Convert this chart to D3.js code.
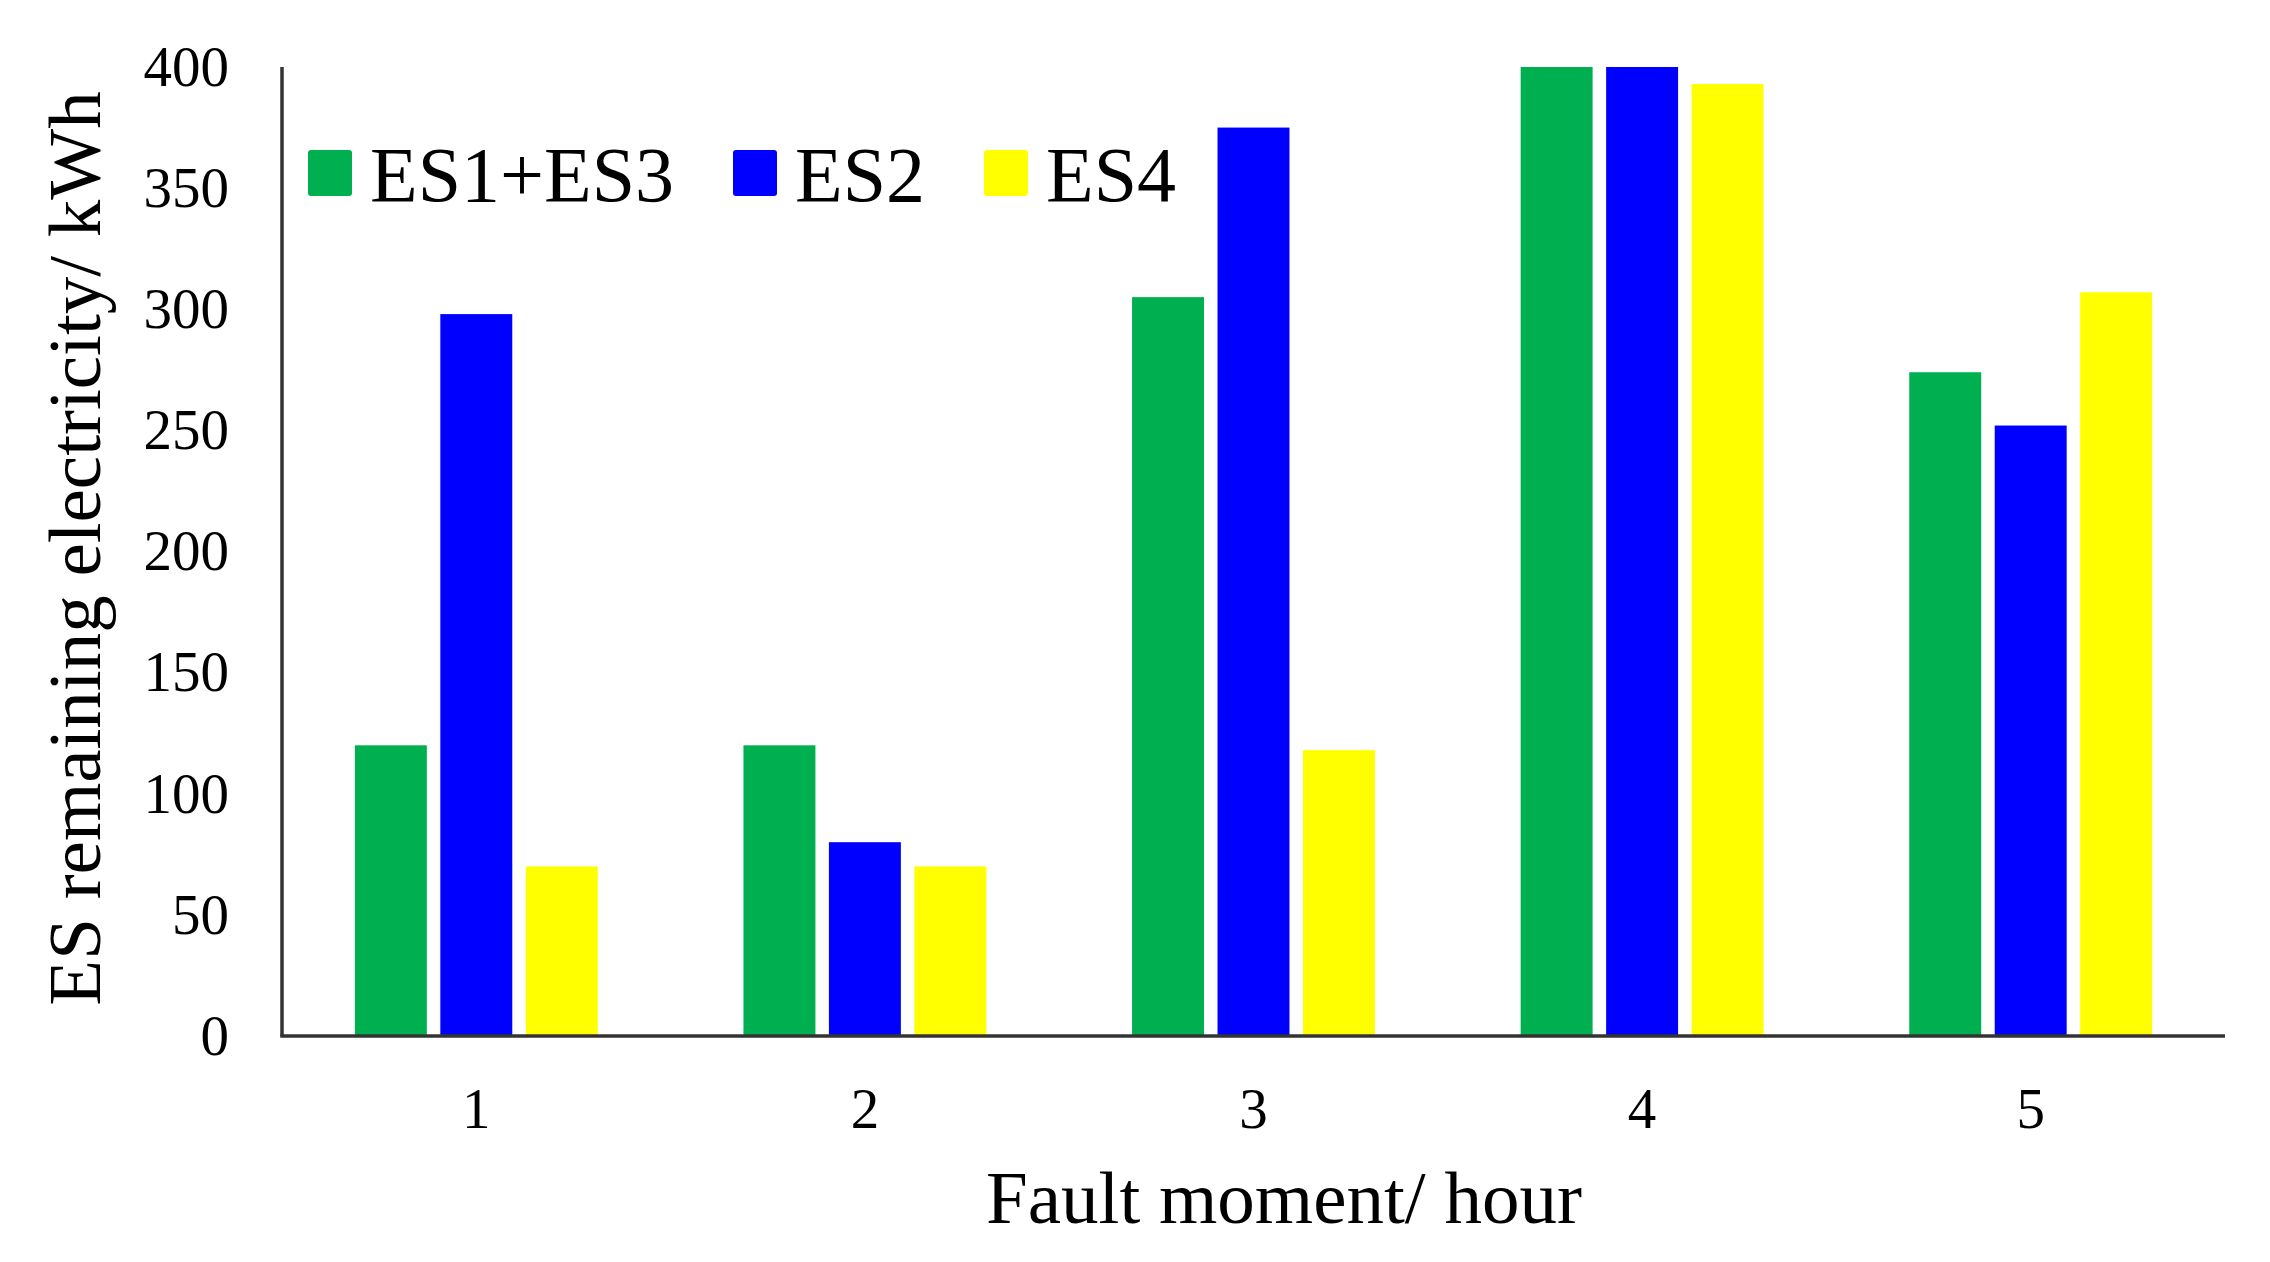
<!DOCTYPE html>
<html><head><meta charset="utf-8">
<script src="https://cdn.jsdelivr.net/npm/d3@7"></script>
<style>html,body{margin:0;padding:0;background:#fff;}svg{display:block;}</style>
</head><body>
<script>
const categories = ["1","2","3","4","5"];
const seriesNames = ["ES1+ES3","ES2","ES4"];
const es13 = [120,120,305,400,274];
const es2 = [298,80,375,400,252];
const es4 = [70,70,118,393,307];
const yTicks = [0,50,100,150,200,250,300,350,400];
const colors = ["#00B050","#0000FF","#FFFF00"];
const seriesValues = [es13, es2, es4];

const W = 2270, H = 1262;
const mLeft = 282, mRight = 2225, mTop = 67, mBottom = 1036;
const font = "'Liberation Serif','Times New Roman',serif";

const svg = d3.select("body").append("svg").attr("width", W).attr("height", H);

const x0 = d3.scaleBand().domain(categories).range([mLeft, mRight]).paddingInner(0.375).paddingOuter(0.1875);
const x1 = d3.scaleBand().domain(seriesNames).range([0, x0.bandwidth()]).paddingInner(0.158).paddingOuter(0);
const y = d3.scaleLinear().domain([0, 400]).range([mBottom, mTop]);

// bars
categories.forEach((c, i) => {
  const g = svg.append("g").attr("transform", `translate(${x0(c)},0)`);
  g.selectAll("rect").data(seriesNames.map((s, k) => ({s, v: seriesValues[k][i], k})))
    .enter().append("rect")
    .attr("x", d => x1(d.s)).attr("width", x1.bandwidth())
    .attr("y", d => y(d.v)).attr("height", d => y(0) - y(d.v))
    .attr("fill", d => colors[d.k]);
});

// y axis
const yAxis = d3.axisLeft(y).tickValues(yTicks).tickSize(0).tickPadding(53);
const ya = svg.append("g").attr("transform", `translate(${mLeft},0)`).call(yAxis);
ya.select(".domain").remove();
ya.selectAll("text").attr("font-family", font).attr("font-size", 57).attr("fill", "#000");

// x axis
const xAxis = d3.axisBottom(x0.copy().paddingInner(0).paddingOuter(0)).tickSize(0).tickPadding(52);
const xa = svg.append("g").attr("transform", `translate(0,${mBottom})`).call(xAxis);
xa.select(".domain").remove();
xa.selectAll("text").attr("font-family", font).attr("font-size", 57).attr("fill", "#000");

// axis lines
svg.append("line").attr("x1", mLeft).attr("x2", mLeft).attr("y1", mTop).attr("y2", mBottom)
  .attr("stroke", "#333").attr("stroke-width", 3.5);
svg.append("line").attr("x1", mLeft - 1.75).attr("x2", mRight).attr("y1", mBottom).attr("y2", mBottom)
  .attr("stroke", "#333").attr("stroke-width", 3.5);

// axis titles
svg.append("text").attr("x", 1284).attr("y", 1223)
  .attr("text-anchor", "middle").attr("font-family", font).attr("font-size", 75).attr("fill", "#000")
  .text("Fault moment/ hour");
svg.append("text").attr("transform", `translate(100,${(mTop + mBottom) / 2 - 3}) rotate(-90)`)
  .attr("text-anchor", "middle").attr("font-family", font).attr("font-size", 75).attr("fill", "#000")
  .text("ES remaining electricity/ kWh");

// legend
const legendX = [308, 733, 984];
const lg = svg.append("g");
seriesNames.forEach((s, k) => {
  lg.append("rect").attr("x", legendX[k]).attr("y", 150).attr("width", 44).attr("height", 46)
    .attr("rx", 3).attr("fill", colors[k]);
  lg.append("text").attr("x", legendX[k] + 62).attr("y", 201)
    .attr("font-family", font).attr("font-size", 78).attr("fill", "#000").text(s);
});
</script>
</body></html>
